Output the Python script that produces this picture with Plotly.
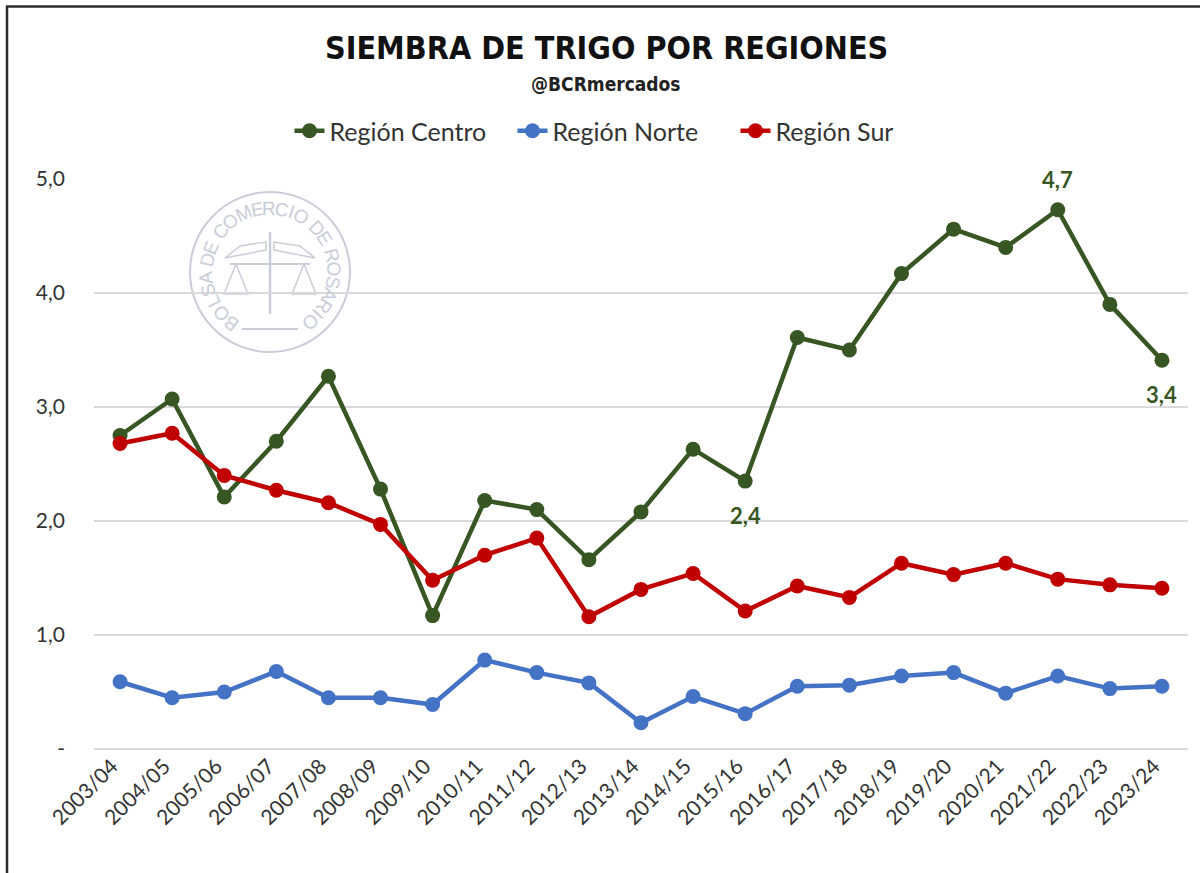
import math
import plotly.graph_objects as go

seasons = ["2003/04", "2004/05", "2005/06", "2006/07", "2007/08", "2008/09", "2009/10",
           "2010/11", "2011/12", "2012/13", "2013/14", "2014/15", "2015/16", "2016/17",
           "2017/18", "2018/19", "2019/20", "2020/21", "2021/22", "2022/23", "2023/24"]
centro = [2.75, 3.07, 2.21, 2.70, 3.27, 2.28, 1.17, 2.18, 2.10, 1.66, 2.08, 2.63, 2.35, 3.61,
          3.50, 4.17, 4.56, 4.40, 4.73, 3.90, 3.41]
norte = [0.59, 0.45, 0.50, 0.68, 0.45, 0.45, 0.39, 0.78, 0.67, 0.58, 0.23, 0.46, 0.31, 0.55,
         0.56, 0.64, 0.67, 0.49, 0.64, 0.53, 0.55]
sur = [2.68, 2.77, 2.40, 2.27, 2.16, 1.97, 1.48, 1.70, 1.85, 1.16, 1.40, 1.54, 1.21, 1.43,
       1.33, 1.63, 1.53, 1.63, 1.49, 1.44, 1.41]
series_names = ["Región Centro", "Región Norte", "Región Sur"]
y_tickvals = [0, 1, 2, 3, 4, 5]
y_ticktext = ["-", "1,0", "2,0", "3,0", "4,0", "5,0"]
# labelled points of Región Centro: (index, offset direction)
centro_labels = [(12, "below"), (18, "above"), (20, "below")]

GREEN = "#375623"
BLUE = "#4472C4"
RED = "#C00000"
TXT = "#333333"
COND = "DejaVu Sans Condensed, sans-serif"

W, H = 1200, 873
ML, MR, MT, MB = 94, 12, 179, 124
PW, PH = W - ML - MR, H - MT - MB


def px(x):
    return (x - ML) / PW


def py(y):
    return (H - MB - y) / PH


fig = go.Figure()
for name, vals, col in zip(series_names, [centro, norte, sur], [GREEN, BLUE, RED]):
    fig.add_trace(go.Scatter(
        x=seasons, y=vals, name=name, mode="lines+markers",
        line=dict(color=col, width=4.5),
        marker=dict(color=col, size=15),
        cliponaxis=False,
    ))

annotations = []
for i, pos in centro_labels:
    annotations.append(dict(
        x=seasons[i], y=centro[i], xref="x", yref="y",
        text=f"{centro[i]:.1f}".replace(".", ","), showarrow=False,
        yshift=-34 if pos == "below" else 30,
        font=dict(family="Lato", size=22, color=GREEN, weight="bold"),
    ))

# Title and subtitle
annotations.append(dict(
    x=px(606), y=py(48), xref="paper", yref="paper", showarrow=False,
    text="<b>SIEMBRA DE TRIGO POR REGIONES</b>",
    font=dict(family=COND, size=32, color="#111111"),
    xanchor="center", yanchor="middle",
))
annotations.append(dict(
    x=px(606), y=py(84), xref="paper", yref="paper", showarrow=False,
    text="<b>@BCRmercados</b>",
    font=dict(family=COND, size=19, color="#222222"),
    xanchor="center", yanchor="middle",
))

# Watermark seal (decoration)
WM = "#c9cdd8"
cx, cy, R = 270, 272, 80


def pth(points):
    return "M " + " L ".join(f"{px(a):.5f},{py(b):.5f}" for a, b in points)


shapes = [
    dict(type="circle", xref="paper", yref="paper", x0=px(cx - R), x1=px(cx + R),
         y0=py(cy + R), y1=py(cy - R), line=dict(color=WM, width=2), layer="below"),
    dict(type="line", xref="paper", yref="paper", x0=px(cx - 28), x1=px(cx + 28),
         y0=py(cy + 57), y1=py(cy + 57), line=dict(color=WM, width=2), layer="below"),
    dict(type="line", xref="paper", yref="paper", x0=px(cx - 40), x1=px(cx + 40),
         y0=py(cy - 8), y1=py(cy - 8), line=dict(color=WM, width=2), layer="below"),
    dict(type="line", xref="paper", yref="paper", x0=px(cx), x1=px(cx),
         y0=py(cy - 40), y1=py(cy + 42), line=dict(color=WM, width=2.5), layer="below"),
    dict(type="path", xref="paper", yref="paper", layer="below",
         path=pth([(cx - 4, cy - 22), (cx - 45, cy - 14), (cx - 30, cy - 26), (cx - 4, cy - 30)]) + " Z",
         line=dict(color=WM, width=1.5)),
    dict(type="path", xref="paper", yref="paper", layer="below",
         path=pth([(cx + 4, cy - 22), (cx + 45, cy - 14), (cx + 30, cy - 26), (cx + 4, cy - 30)]) + " Z",
         line=dict(color=WM, width=1.5)),
    dict(type="path", xref="paper", yref="paper", layer="below",
         path=pth([(cx - 34, cy - 8), (cx - 46, cy + 22), (cx - 22, cy + 22), (cx - 34, cy - 8)]),
         line=dict(color=WM, width=1.5)),
    dict(type="path", xref="paper", yref="paper", layer="below",
         path=pth([(cx + 34, cy - 8), (cx + 22, cy + 22), (cx + 46, cy + 22), (cx + 34, cy - 8)]),
         line=dict(color=WM, width=1.5)),
]
seal_text = "BOLSA DE COMERCIO DE ROSARIO"
weights = [0.5 if ch == " " else (1.25 if ch in "MO" else (0.55 if ch == "I" else 1.0))
           for ch in seal_text]
a0, a1 = 238.0, -58.0
rt = 64
total = sum(weights)
acc = 0.0
for ch, wgt in zip(seal_text, weights):
    mid = acc + wgt / 2
    acc += wgt
    if ch == " ":
        continue
    th = a0 + (a1 - a0) * mid / total
    x = cx + rt * math.cos(math.radians(th))
    y = cy - rt * math.sin(math.radians(th))
    annotations.append(dict(
        x=px(x), y=py(y), xref="paper", yref="paper", showarrow=False,
        text=ch, textangle=90 - th,
        font=dict(family="Liberation Sans", size=19, color=WM),
        xanchor="center", yanchor="middle",
    ))

# Outer frame (left and top edges visible)
shapes.append(dict(type="line", xref="paper", yref="paper", x0=px(7), x1=px(7),
                   y0=py(6), y1=py(H + 5), line=dict(color="#2b2b2b", width=2.5)))
shapes.append(dict(type="line", xref="paper", yref="paper", x0=px(6), x1=px(W + 5),
                   y0=py(6.5), y1=py(6.5), line=dict(color="#2b2b2b", width=2.5)))

fig.update_layout(
    width=W, height=H,
    margin=dict(l=ML, r=MR, t=MT, b=MB),
    paper_bgcolor="white", plot_bgcolor="white",
    font=dict(family="Lato", color=TXT),
    showlegend=True,
    legend=dict(orientation="h", x=px(624), xanchor="center", y=py(131), yanchor="middle",
                font=dict(family="Lato", size=25, color=TXT),
                entrywidth=178, entrywidthmode="pixels",
                bgcolor="rgba(0,0,0,0)", tracegroupgap=0),
    xaxis=dict(type="category", range=[-0.5, 20.5], showgrid=False, zeroline=False,
               showline=False, ticks="", tickangle=-45, ticklabelshift=-8,
               tickfont=dict(family="Lato", size=21, color=TXT)),
    yaxis=dict(range=[0, 5], tickvals=y_tickvals, ticktext=y_ticktext, showgrid=True,
               gridcolor="#d9d9d9", gridwidth=1.5, zeroline=True, zerolinecolor="#d9d9d9",
               zerolinewidth=1.5, showline=False, ticks="", ticklabelstandoff=28,
               tickfont=dict(family="Lato", size=21, color=TXT)),
    annotations=annotations,
    shapes=shapes,
)

fig.write_html("out.html")
